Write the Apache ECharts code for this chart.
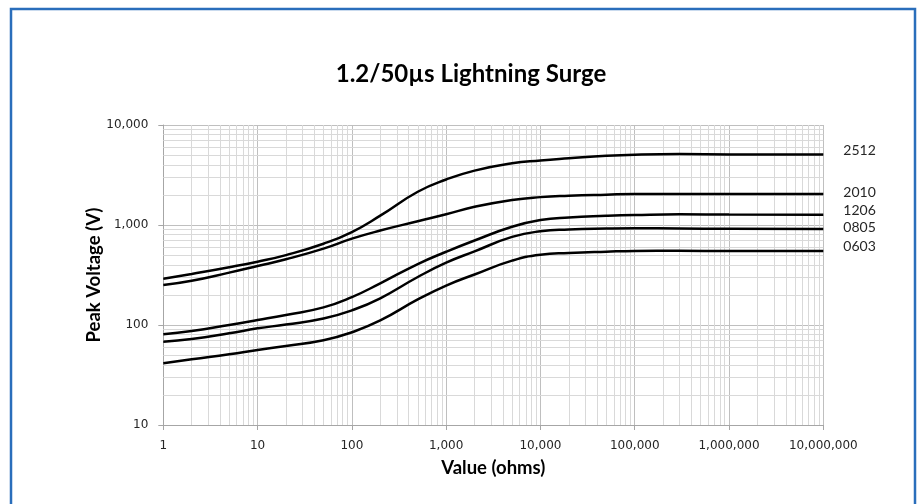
<!DOCTYPE html>
<html>
<head>
<meta charset="utf-8">
<script src="https://cdn.jsdelivr.net/npm/echarts@6/dist/echarts.min.js"></script>
<style>
html,body{margin:0;padding:0;background:#fff;}
#chart{width:917px;height:504px;}
</style>
</head>
<body>
<div id="chart"></div>
<script>
// Resistance values (ohms) at which the curves were read
const resistance = [1, 2, 5, 10, 20, 50, 100, 200, 500, 1000, 2000, 5000, 10000, 20000, 50000, 100000, 300000, 1000000, 10000000];

// Peak voltage (V) per case size
const v2512 = [290, 324, 378, 430, 500, 650, 850, 1240, 2150, 2850, 3500, 4150, 4420, 4640, 4920, 5050, 5120, 5080, 5070];
const v2010 = [251, 277, 334, 389, 454, 580, 730, 880, 1090, 1280, 1520, 1780, 1900, 1960, 2010, 2040, 2045, 2040, 2036];
const v1206 = [81, 87, 100, 112, 126, 150, 190, 261, 407, 540, 700, 960, 1120, 1190, 1235, 1259, 1280, 1270, 1265];
const v0805 = [68, 72.4, 82.6, 92.6, 101, 116, 140, 185, 302, 420, 545, 760, 865, 900, 920, 927, 925, 915, 912];
const v0603 = [41.4, 45.4, 50.9, 56.2, 61.7, 70.5, 84.6, 111, 180, 248, 320, 440, 505, 525, 541, 550, 552, 550, 550];

const seriesNames = ['2512', '2010', '1206', '0805', '0603'];
const seriesValues = [v2512, v2010, v1206, v0805, v0603];
const labelOffsets = [[0, -4], [0, -2], [0, -4], [0, -2], [0, -4]];

// Minor log grid multipliers
const minorMult = [2, 3, 4, 5, 6, 7, 8, 9];
const xDecades = [1, 10, 100, 1000, 10000, 100000, 1000000];
const yDecades = [10, 100, 1000];

const fmt = v => Math.round(v).toLocaleString('en-US');

const minorLines = [];
xDecades.forEach(d => minorMult.forEach(m => minorLines.push({ xAxis: d * m })));
yDecades.forEach(d => minorMult.forEach(m => minorLines.push({ yAxis: d * m })));

const chart = echarts.init(document.getElementById('chart'));

const series = seriesNames.map((name, i) => ({
  name: name,
  type: 'line',
  data: resistance.map((r, j) => [r, seriesValues[i][j]]),
  smooth: 0.5,
  showSymbol: false,
  symbol: 'none',
  z: 5,
  lineStyle: { color: '#000', width: 2.5 },
  endLabel: {
    show: true,
    formatter: name,
    distance: 20,
    offset: labelOffsets[i],
    fontFamily: 'Lato',
    fontSize: 14,
    color: '#262626'
  },
  emphasis: { disabled: true }
}));

series.unshift({
  name: 'minorGrid',
  type: 'line',
  data: [],
  z: 1,
  silent: true,
  markLine: {
    silent: true,
    symbol: ['none', 'none'],
    label: { show: false },
    lineStyle: { color: '#d9d9d9', width: 1, type: 'solid' },
    emphasis: { disabled: true },
    animation: false,
    data: minorLines
  }
});

chart.setOption({
  animation: false,
  backgroundColor: '#fff',
  graphic: [{
    type: 'rect',
    shape: { x: 11, y: 9, width: 904, height: 540 },
    style: { fill: 'none', stroke: '#2a6ebb', lineWidth: 2.5 },
    z: 0
  }],
  title: {
    text: '1.2/50µs Lightning Surge',
    left: 466,
    textAlign: 'center',
    top: 57,
    textStyle: { fontFamily: 'Lato', fontWeight: 'bold', fontSize: 24, color: '#000' }
  },
  grid: { left: 163.3, right: 93.7, top: 125, bottom: 79, containLabel: false },
  xAxis: {
    type: 'log',
    logBase: 10,
    min: 1,
    max: 10000000,
    splitNumber: 7,
    name: 'Value (ohms)',
    nameLocation: 'middle',
    nameGap: 34,
    nameMoveOverlap: false,
    nameTextStyle: { fontFamily: 'Lato', fontWeight: 'bold', fontSize: 18.5, color: '#000' },
    axisLine: { show: true, lineStyle: { color: '#a6a6a6', width: 1 } },
    axisTick: { show: true, length: 5, lineStyle: { color: '#a6a6a6' } },
    axisLabel: { formatter: fmt, margin: 15, fontFamily: 'DejaVu Sans', fontSize: 12, color: '#262626' },
    splitLine: { show: true, lineStyle: { color: '#bfbfbf', width: 1 } }
  },
  yAxis: {
    type: 'log',
    logBase: 10,
    min: 10,
    max: 10000,
    splitNumber: 3,
    name: 'Peak Voltage (V)',
    nameLocation: 'middle',
    nameGap: 60,
    nameMoveOverlap: false,
    nameRotate: 90,
    nameTextStyle: { fontFamily: 'Lato', fontWeight: 'bold', fontSize: 18.5, color: '#000' },
    axisLine: { show: true, lineStyle: { color: '#a6a6a6', width: 1 } },
    axisTick: { show: true, length: 5, lineStyle: { color: '#a6a6a6' } },
    axisLabel: { formatter: fmt, margin: 15, fontFamily: 'DejaVu Sans', fontSize: 12, color: '#262626' },
    splitLine: { show: true, lineStyle: { color: '#bfbfbf', width: 1 } }
  },
  series: series
});
</script>
</body>
</html>
